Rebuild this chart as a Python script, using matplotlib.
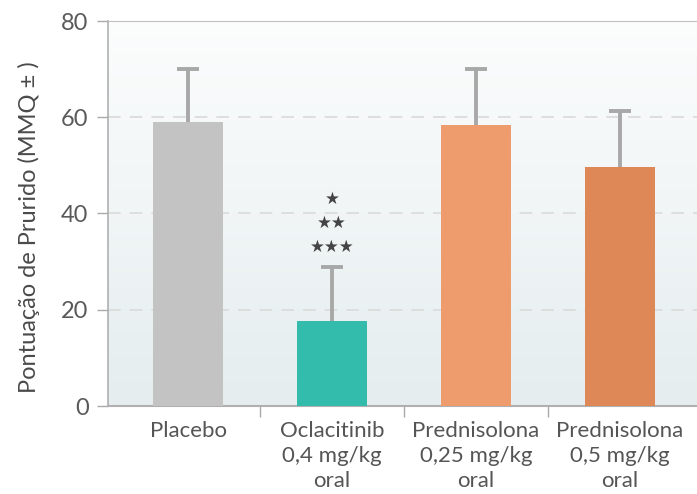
import numpy as np
import matplotlib
matplotlib.use("Agg")
import matplotlib.pyplot as plt
from matplotlib.colors import LinearSegmentedColormap

categories = ["Placebo", "Oclacitinib\n0,4 mg/kg\noral",
              "Prednisolona\n0,25 mg/kg\noral", "Prednisolona\n0,5 mg/kg\noral"]
means = [59.0, 17.7, 58.4, 49.7]
upper = [70.0, 28.9, 70.0, 61.2]
colors = ["#c3c3c3", "#33bcac", "#ee9b6e", "#df8857"]
stars = ["\u2605", "\u2605\u2605", "\u2605\u2605\u2605"]
star_y = [43.0, 38.0, 33.0]

plt.rcParams['font.family'] = ['Lato', 'DejaVu Sans']
text_color = "#555555"

fig = plt.figure(figsize=(6.97, 4.94), dpi=100)
ax = fig.add_axes([108 / 697, 88 / 494, 589 / 697, 385 / 494])

x = np.arange(len(categories))

# fondo degradado
grad = np.linspace(0, 1, 256).reshape(-1, 1)
bg = LinearSegmentedColormap.from_list("bg", ["#e5edef", "#fcfdfd"])
ax.imshow(grad, aspect="auto", cmap=bg, origin="lower",
          extent=(-0.556, 3.535, 0, 80), zorder=0)

ax.bar(x, means, width=0.486, color=colors, zorder=3)
ax.vlines(x, means, upper, color="#a8a8a8", lw=2.8, zorder=2)
ax.scatter(x, upper, marker="_", s=260, linewidths=2.8, color="#a8a8a8", zorder=2)

for s, yy in zip(stars, star_y):
    ax.text(1, yy, s, ha="center", va="center", fontsize=12, color="#444444",
            family=["DejaVu Sans"], zorder=4)

ax.set_xlim(-0.556, 3.535)
ax.set_ylim(0, 80)
ax.set_yticks([0, 20, 40, 60, 80])
for yv in [20, 40, 60]:
    ax.axhline(yv, color="#dcdcdc", lw=1.3, dashes=(7, 5), zorder=1)

ax.set_xticks(x)
ax.set_xticklabels(categories, fontsize=16, color=text_color, linespacing=1.3)
ax.set_xticks([0.5, 1.5, 2.5], minor=True)
ax.tick_params(axis="x", which="major", length=0, pad=11)
ax.tick_params(axis="x", which="minor", length=8, width=1, color="#aaaaaa")
ax.tick_params(axis="y", length=8, width=1, color="#aaaaaa", labelsize=17,
               labelcolor="#5a5a5a", pad=6)

ax.spines["right"].set_visible(False)
ax.spines["left"].set_color("#b0b0b0")
ax.spines["top"].set_color("#c0c0c0")
ax.spines["bottom"].set_color("#b0b0b0")
ax.spines["bottom"].set_linewidth(1.5)
ax.spines["left"].set_linewidth(1.2)

ax.set_ylabel("Pontuação de Prurido (MMQ \u00b1 )", fontsize=17, color="#4a4a4a")
ax.yaxis.set_label_coords(-0.116, 0.465)

fig.savefig("out.png", dpi=100)
